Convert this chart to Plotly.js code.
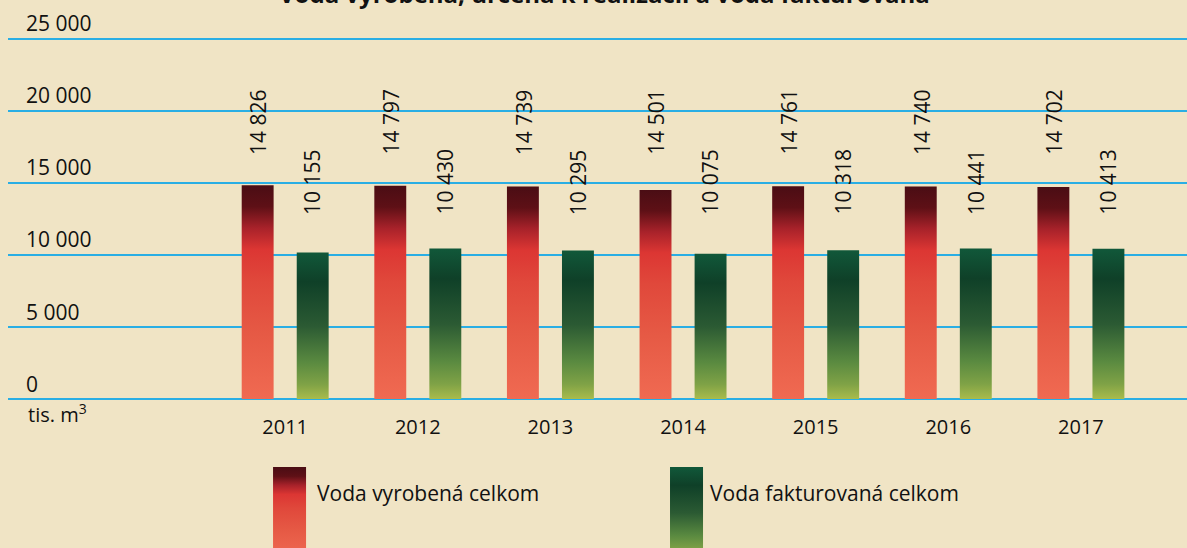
<!DOCTYPE html>
<html>
<head>
<meta charset="utf-8">
<script src="https://cdn.plot.ly/plotly-3.0.1.min.js"></script>
<style>
html,body{margin:0;padding:0;background:#f0e4c5;}
#chart{width:1187px;height:548px;}
</style>
</head>
<body>
<div id="chart"></div>
<script>
const years = ['2011','2012','2013','2014','2015','2016','2017'];
const vyrobena = [14826, 14797, 14739, 14501, 14761, 14740, 14702];
const fakturovana = [10155, 10430, 10295, 10075, 10318, 10441, 10413];
const seriesNames = ['Voda vyrobená celkom', 'Voda fakturovaná celkom'];
const chartTitle = 'Voda vyrobená, určená k realizácii a voda fakturovaná';
const unitLabel = 'tis. m<sup>3</sup>';

const FONT = '"Open Sans", "Noto Sans", sans-serif';
const fmt = v => String(v).replace(/\B(?=(\d{3})+(?!\d))/g, ' ');

const traces = [
  {type:'bar', x:years, y:vyrobena, name:seriesNames[0], marker:{color:'#d8382f'}, hoverinfo:'none'},
  {type:'bar', x:years, y:fakturovana, name:seriesNames[1], marker:{color:'#1f5a34'}, hoverinfo:'none'}
];

const annotations = [];
years.forEach((yr, i) => {
  annotations.push({x:i, y:16800, xref:'x', yref:'y', text:fmt(vyrobena[i]), textangle:-90,
    showarrow:false, xanchor:'center', yanchor:'bottom', xshift:-27, font:{family:FONT,size:21,color:'#111'}});
  annotations.push({x:i, y:12640, xref:'x', yref:'y', text:fmt(fakturovana[i]), textangle:-90,
    showarrow:false, xanchor:'center', yanchor:'bottom', xshift:27, font:{family:FONT,size:21,color:'#111'}});
});
annotations.push({x:0.0153, y:-0.0351, xref:'paper', yref:'paper', text:unitLabel, showarrow:false,
  xanchor:'left', yanchor:'middle', font:{family:FONT,size:20,color:'#111'}});
annotations.push({x:0.2604, y:-0.2356, xref:'paper', yref:'paper', text:seriesNames[0], showarrow:false,
  xanchor:'left', yanchor:'middle', font:{family:FONT,size:21,color:'#111'}});
annotations.push({x:0.5937, y:-0.2356, xref:'paper', yref:'paper', text:seriesNames[1], showarrow:false,
  xanchor:'left', yanchor:'middle', font:{family:FONT,size:21,color:'#111'}});
annotations.push({x:0.5, y:1.016, xref:'paper', yref:'paper', text:'<b>'+chartTitle+'</b>', showarrow:false,
  xanchor:'center', yanchor:'middle', xshift:7, font:{family:FONT,size:24,color:'#111'}});

const shapes = [
  {type:'rect', xref:'paper', yref:'paper', x0:0.2248, x1:0.2528, y0:-0.40, y1:-0.1704, line:{width:0}, fillcolor:'#c0282a'},
  {type:'rect', xref:'paper', yref:'paper', x0:0.5615, x1:0.5895, y0:-0.40, y1:-0.1704, line:{width:0}, fillcolor:'#1f5a34'}
];

const layout = {
  width:1187, height:548,
  margin:{l:8, r:0, t:0, b:149, pad:0},
  paper_bgcolor:'rgba(0,0,0,0)', plot_bgcolor:'rgba(0,0,0,0)',
  separators:', ',
  showlegend:false,
  barmode:'group', bargap:0.17, bargroupgap:0.42,
  font:{family:FONT, size:20, color:'#111'},
  xaxis:{type:'category', range:[-2.09, 6.80], showgrid:false, zeroline:false, showline:false,
    ticks:'', ticklabelstandoff:14, tickfont:{family:FONT,size:20,color:'#111'}, fixedrange:true},
  yaxis:{range:[0,27670], tickvals:[0,5000,10000,15000,20000,25000], tickformat:',d', showgrid:true, gridcolor:'#2aaee4', gridwidth:2,
    zeroline:true, zerolinecolor:'#2aaee4', zerolinewidth:2, showline:false, ticks:'',
    ticklabelposition:'inside top', ticklabelstandoff:15,
    tickfont:{family:FONT,size:21,color:'#111'}, fixedrange:true},
  annotations:annotations,
  shapes:shapes
};

Plotly.newPlot('chart', traces, layout, {staticPlot:true, displayModeBar:false}).then(gd => {
  const NS = 'http://www.w3.org/2000/svg';
  const svg = gd.querySelector('.main-svg');
  let defs = svg.querySelector('defs');
  if (!defs) { defs = document.createElementNS(NS,'defs'); svg.insertBefore(defs, svg.firstChild); }
  const grads = {
    gRed: [[0,'#4a0d14'],[0.1,'#5e1016'],[0.2,'#a8222a'],[0.3,'#dc3633'],[0.45,'#e0483b'],[0.7,'#e65a45'],[1,'#f06a52']],
    gGreen: [[0,'#11583a'],[0.2,'#0f4028'],[0.5,'#2b5a33'],[0.75,'#5a8a40'],[0.9,'#7fa246'],[1,'#a9bb4c']]
  };
  Object.keys(grads).forEach(id => {
    const lg = document.createElementNS(NS,'linearGradient');
    lg.setAttribute('id', id); lg.setAttribute('x1','0'); lg.setAttribute('y1','0');
    lg.setAttribute('x2','0'); lg.setAttribute('y2','1');
    grads[id].forEach(([o,c]) => {
      const s = document.createElementNS(NS,'stop');
      s.setAttribute('offset', o); s.setAttribute('stop-color', c);
      lg.appendChild(s);
    });
    defs.appendChild(lg);
  });
  const ids = ['gRed','gGreen'];
  gd.querySelectorAll('.barlayer .trace').forEach((tr, i) => {
    tr.querySelectorAll('path').forEach(p => { p.style.fill = 'url(#' + ids[i] + ')'; });
  });
  const shp = gd.querySelectorAll('.shapelayer path');
  shp.forEach((p, i) => { p.style.fill = 'url(#' + ids[i % 2] + ')'; });
});
</script>
</body>
</html>
